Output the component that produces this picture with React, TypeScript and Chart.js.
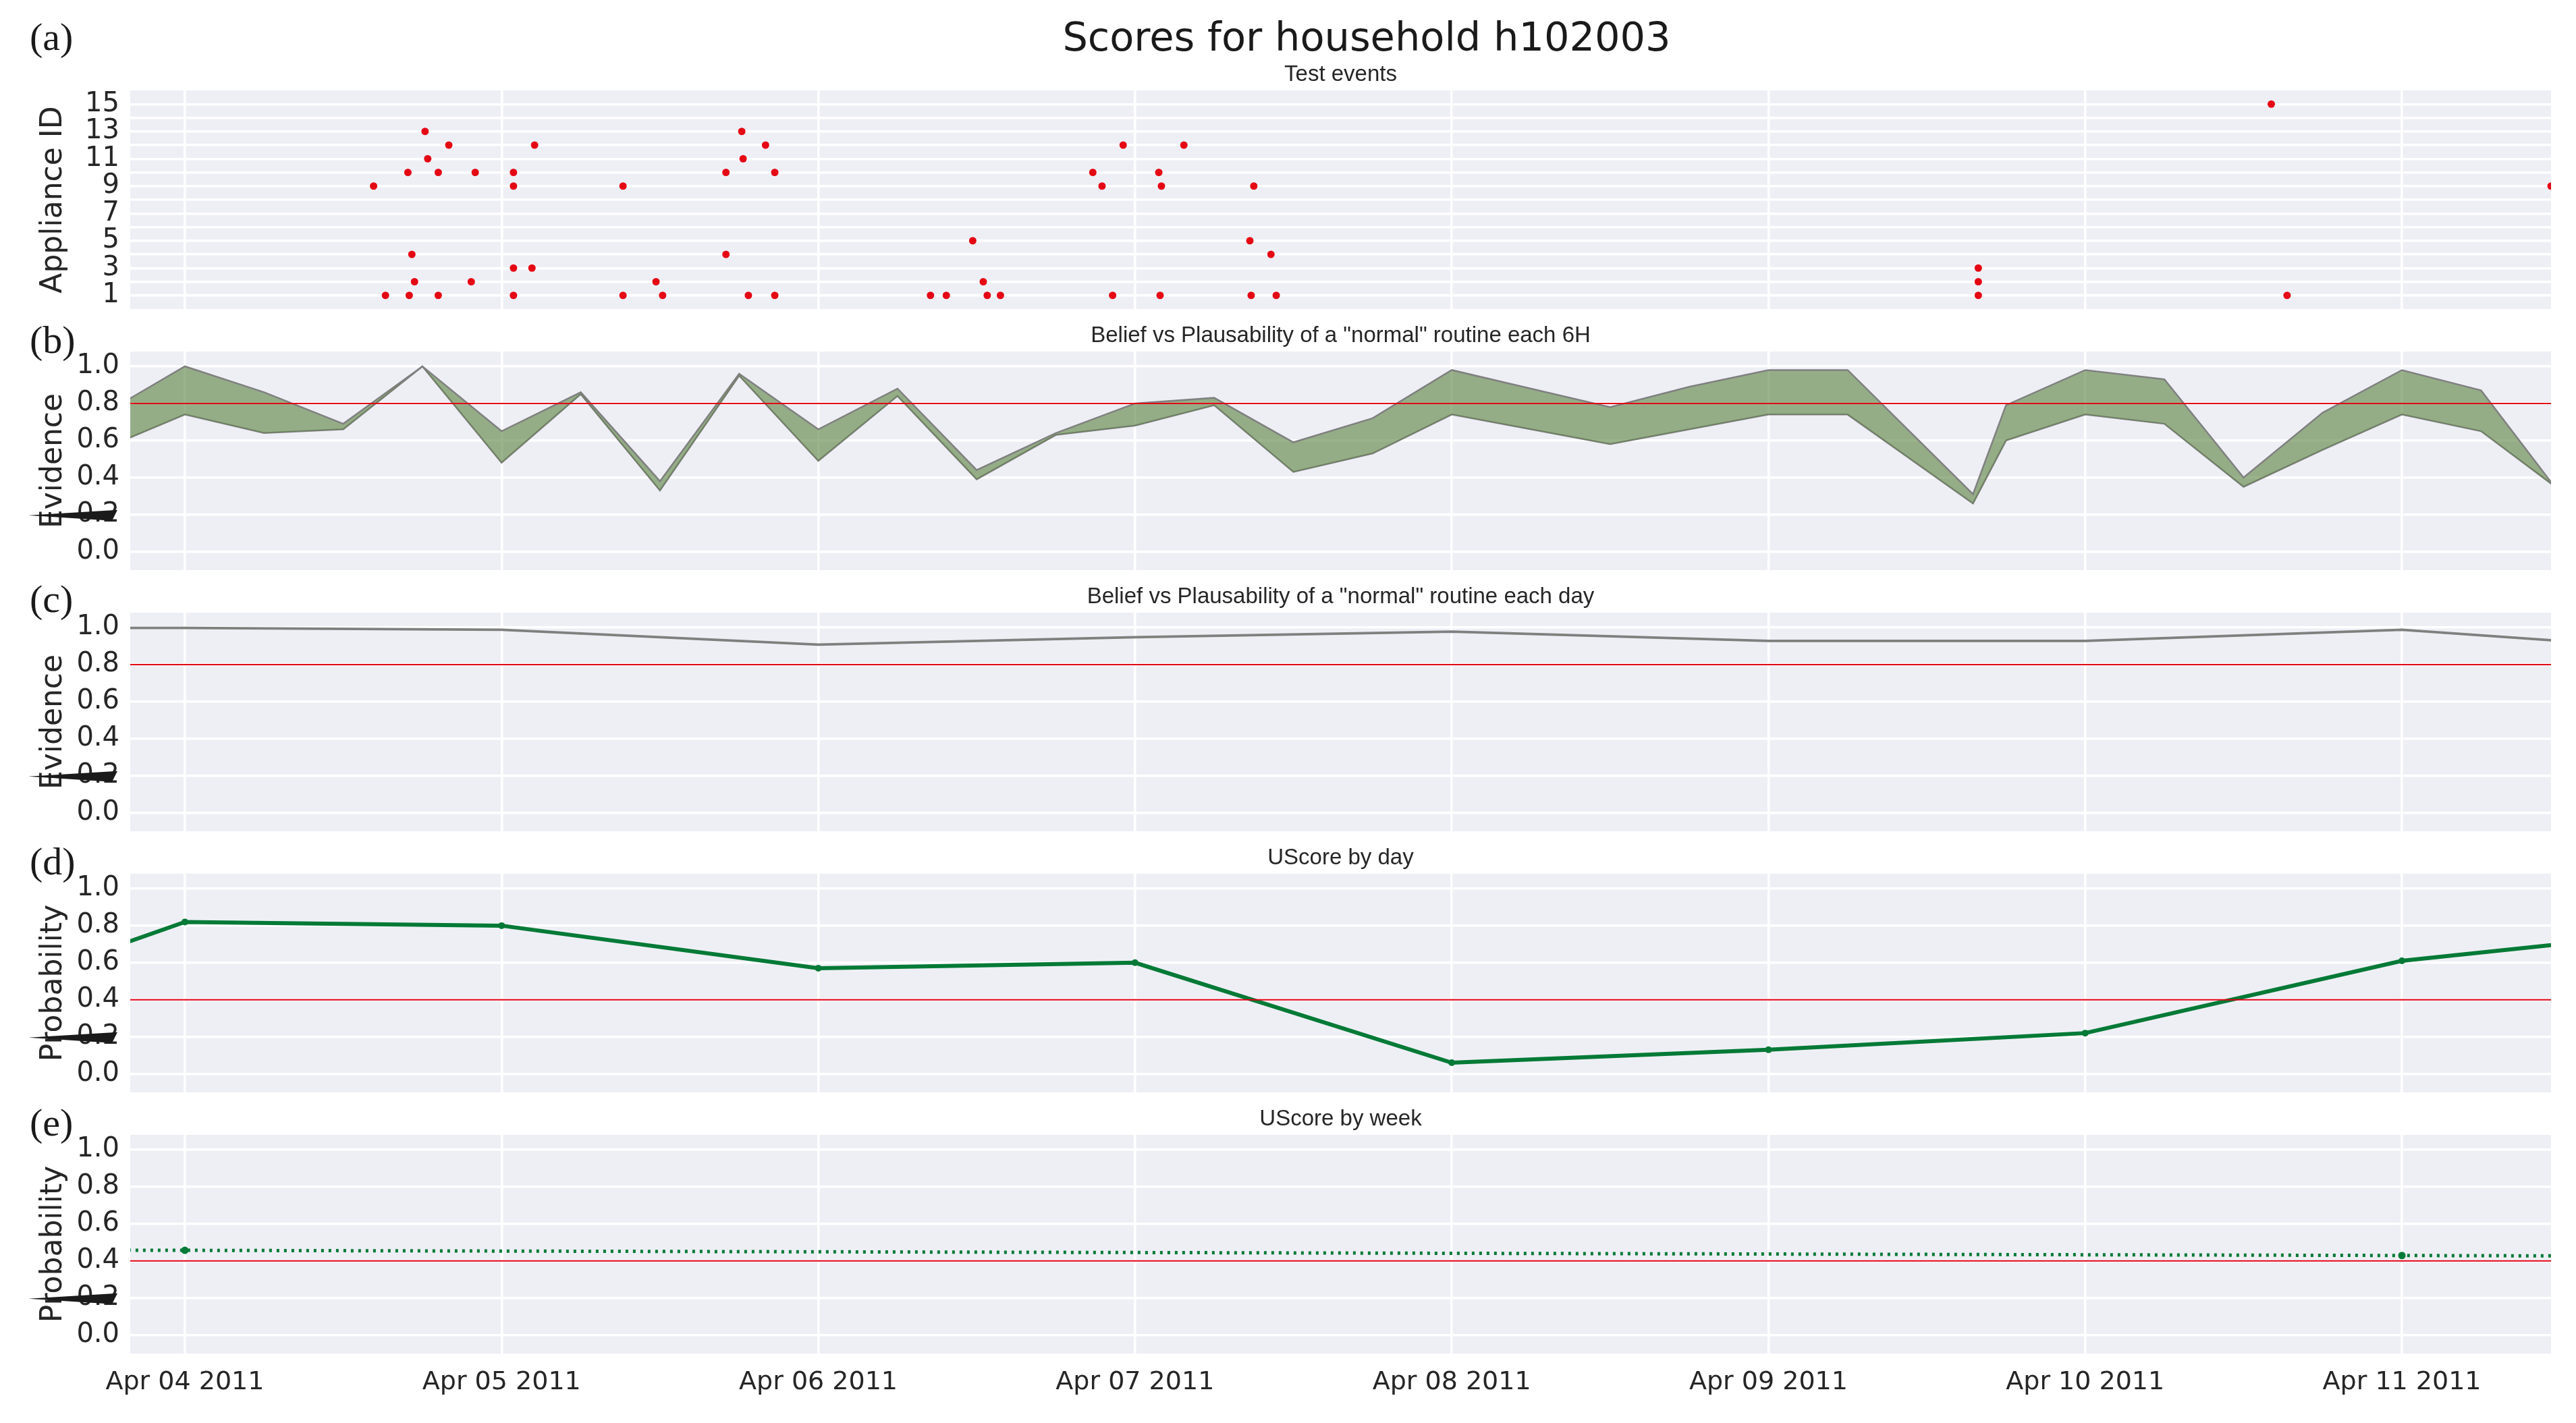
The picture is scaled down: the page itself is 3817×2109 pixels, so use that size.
import { useEffect, useRef } from "react";
import { Chart, registerables } from "chart.js";

Chart.register(...registerables);

// x values are hours since Apr 04 2011 00:00
const dayTicks = [0, 24, 48, 72, 96, 120, 144, 168];
const dayLabels = [
  "Apr 04 2011",
  "Apr 05 2011",
  "Apr 06 2011",
  "Apr 07 2011",
  "Apr 08 2011",
  "Apr 09 2011",
  "Apr 10 2011",
  "Apr 11 2011",
];
const applianceTicks = [1, 2, 3, 4, 5, 6, 7, 8, 9, 10, 11, 12, 13, 14, 15];
const evidenceTicks = [0, 0.2, 0.4, 0.6, 0.8, 1.0];

// (a) test events
const eventHours = [
  15.2, 17.0, 19.2, 24.9, 33.2, 36.2, 42.7, 44.7, 56.5, 57.7, 60.8, 61.8, 70.3, 73.9, 80.8, 82.7, 135.9, 159.3,
  17.4, 21.7, 35.7, 60.5, 135.9,
  24.9, 26.3, 135.9,
  17.2, 41.0, 82.3,
  59.7, 80.7,
  14.3, 24.9, 33.2, 69.5, 74.0, 81.0, 179.3,
  16.9, 19.2, 22.0, 24.9, 41.0, 44.7, 68.8, 73.8,
  18.4, 42.3,
  20.0, 26.5, 44.0, 71.1, 75.7,
  18.2, 42.2,
  158.1,
];
const eventAppliances = [
  1, 1, 1, 1, 1, 1, 1, 1, 1, 1, 1, 1, 1, 1, 1, 1, 1, 1,
  2, 2, 2, 2, 2,
  3, 3, 3,
  4, 4, 4,
  5, 5,
  9, 9, 9, 9, 9, 9, 9,
  10, 10, 10, 10, 10, 10, 10, 10,
  11, 11,
  12, 12, 12, 12, 12,
  13, 13,
  15,
];

// (b) belief / plausability each 6H
const sixHourTimes = [
  -6, 0, 6, 12, 18, 24, 30, 36, 42, 48, 54, 60, 66, 72, 78, 84, 90, 96, 102, 108, 114, 120, 126, 135.5, 138, 144,
  150, 156, 162, 168, 174, 180,
];
const plausibility6h = [
  0.75, 1.0, 0.86, 0.69, 1.0, 0.65, 0.86, 0.38, 0.96, 0.66, 0.88, 0.44, 0.64, 0.8, 0.83, 0.59, 0.72, 0.98, 0.88,
  0.78, 0.89, 0.98, 0.98, 0.31, 0.79, 0.98, 0.93, 0.4, 0.75, 0.98, 0.87, 0.31,
];
const belief6h = [
  0.56, 0.74, 0.64, 0.66, 1.0, 0.48, 0.85, 0.33, 0.95, 0.49, 0.84, 0.39, 0.63, 0.68, 0.79, 0.43, 0.53, 0.74, 0.66,
  0.58, 0.66, 0.74, 0.74, 0.26, 0.6, 0.74, 0.69, 0.35, 0.55, 0.74, 0.65, 0.33,
];

// (c), (d) daily values
const dayTimes = [-24, 0, 24, 48, 72, 96, 120, 144, 168, 192];
const plausibilityDay = [1.0, 1.0, 0.99, 0.91, 0.95, 0.98, 0.93, 0.93, 0.99, 0.87];
const beliefDay = [0.995, 0.995, 0.985, 0.905, 0.945, 0.975, 0.925, 0.925, 0.985, 0.865];
const uscoreDay = [0.22, 0.82, 0.8, 0.57, 0.6, 0.06, 0.13, 0.22, 0.61, 0.79];

// (e) weekly values
const weekTimes = [-168, 0, 168, 336];
const uscoreWeek = [0.485, 0.457, 0.429, 0.401];

const evidenceThreshold = 0.8;
const probabilityThreshold = 0.4;

const X_MIN = -4.14;
const X_MAX = 179.3;

const W = 3817;
const PLOT_LEFT = 193;
const PLOT_RIGHT = 3780;
const PLOT_H = 324;
const PAD_TOP = 40;
const PAD_BOTTOM = 40;
const panelTops = [134, 521, 908, 1295, 1682];

const SANS = "'DejaVu Sans', sans-serif";
const ARIAL = "'Liberation Sans', Arial, sans-serif";
const SERIF = "'Liberation Serif', 'Times New Roman', serif";
const TEXT = "#262626";
const BG = "#eeeff5";
const RED = "rgb(228, 6, 19)";
const GREEN = "rgb(4, 122, 54)";
const GREY = "rgb(128, 128, 128)";
const BAND = "rgba(88, 128, 62, 0.6)";

const toPoints = (xs: number[], ys: number[]) => xs.map((x, i) => ({ x, y: ys[i] }));

const background = {
  id: "background",
  beforeDraw(chart: any) {
    const { ctx, chartArea: a } = chart;
    ctx.save();
    ctx.fillStyle = BG;
    ctx.fillRect(a.left, a.top, a.right - a.left, a.bottom - a.top);
    ctx.restore();
  },
};

const thresholdLine = (value: number) => ({
  id: "threshold",
  afterDatasetsDraw(chart: any) {
    const { ctx, chartArea: a } = chart;
    const y = chart.scales.y.getPixelForValue(value);
    ctx.save();
    ctx.strokeStyle = "rgb(225, 0, 20)";
    ctx.lineWidth = 2;
    ctx.beginPath();
    ctx.moveTo(a.left, y);
    ctx.lineTo(a.right, y);
    ctx.stroke();
    ctx.restore();
  },
});

// the stray black wedge over the 0.2 tick label
const tickWedge = (value: number) => ({
  id: "wedge",
  afterDraw(chart: any) {
    const { ctx } = chart;
    const y = chart.scales.y.getPixelForValue(value);
    ctx.save();
    ctx.fillStyle = "#1a1a1a";
    ctx.beginPath();
    ctx.moveTo(42, y + 1);
    ctx.lineTo(174, y - 7);
    ctx.lineTo(166, y + 9);
    ctx.closePath();
    ctx.fill();
    ctx.restore();
  },
});

const xScale = (showLabels: boolean) => ({
  type: "linear",
  min: X_MIN,
  max: X_MAX,
  afterBuildTicks: (axis: any) => {
    axis.ticks = dayTicks.map((v) => ({ value: v }));
  },
  afterFit: (axis: any) => {
    axis.height = showLabels ? 70 : 0;
  },
  grid: { color: "#ffffff", lineWidth: 3.5, drawTicks: false },
  border: { display: false },
  ticks: {
    display: showLabels,
    autoSkip: false,
    maxRotation: 0,
    padding: 20,
    color: TEXT,
    font: { family: SANS, size: 38 },
    callback: (v: number) => dayLabels[dayTicks.indexOf(v)] ?? "",
  },
});

const yScale = (
  min: number,
  max: number,
  ticks: number[],
  label: string,
  format: (v: number) => string
) => ({
  type: "linear",
  min,
  max,
  afterBuildTicks: (axis: any) => {
    axis.ticks = ticks.map((v) => ({ value: v }));
  },
  afterFit: (axis: any) => {
    axis.width = PLOT_LEFT;
  },
  grid: { color: "#ffffff", lineWidth: 3.5, drawTicks: false },
  border: { display: false },
  ticks: {
    autoSkip: false,
    padding: 16,
    color: TEXT,
    font: { family: SANS, size: 40 },
    callback: format,
  },
  title: {
    display: true,
    text: label,
    color: TEXT,
    font: { family: SANS, size: 44 },
    padding: { top: 53, bottom: 0 },
  },
});

const options = (yOpts: any, showX: boolean, bottomPad: number) => ({
  animation: false,
  responsive: false,
  devicePixelRatio: 1,
  events: [],
  layout: { padding: { left: 0, right: W - PLOT_RIGHT, top: PAD_TOP, bottom: bottomPad } },
  plugins: { legend: { display: false }, tooltip: { enabled: false }, title: { display: false } },
  scales: { x: xScale(showX), y: yOpts },
});

const fmtProb = (v: number) => v.toFixed(1);
const fmtId = (v: number) => (v % 2 === 1 ? String(v) : "");

const bandDatasets = (xs: number[], upper: number[], lower: number[]) => [
  {
    data: toPoints(xs, upper),
    borderColor: GREY,
    borderWidth: 2.5,
    pointRadius: 0,
    tension: 0,
    fill: "+1",
    backgroundColor: BAND,
  },
  {
    data: toPoints(xs, lower),
    borderColor: GREY,
    borderWidth: 2.5,
    pointRadius: 0,
    tension: 0,
    fill: false,
  },
];

const panels = [
  {
    height: PAD_TOP + PLOT_H + PAD_BOTTOM,
    config: () => ({
      type: "scatter",
      data: {
        datasets: [
          {
            data: toPoints(eventHours, eventAppliances),
            pointRadius: 5.5,
            backgroundColor: RED,
            borderWidth: 0,
          },
        ],
      },
      options: options(yScale(0, 16, applianceTicks, "Appliance ID", fmtId), false, PAD_BOTTOM),
      plugins: [background],
    }),
  },
  {
    height: PAD_TOP + PLOT_H + PAD_BOTTOM,
    config: () => ({
      type: "line",
      data: { datasets: bandDatasets(sixHourTimes, plausibility6h, belief6h) },
      options: options(yScale(-0.1, 1.08, evidenceTicks, "Evidence", fmtProb), false, PAD_BOTTOM),
      plugins: [background, thresholdLine(evidenceThreshold), tickWedge(0.2)],
    }),
  },
  {
    height: PAD_TOP + PLOT_H + PAD_BOTTOM,
    config: () => ({
      type: "line",
      data: { datasets: bandDatasets(dayTimes, plausibilityDay, beliefDay) },
      options: options(yScale(-0.1, 1.08, evidenceTicks, "Evidence", fmtProb), false, PAD_BOTTOM),
      plugins: [background, thresholdLine(evidenceThreshold), tickWedge(0.2)],
    }),
  },
  {
    height: PAD_TOP + PLOT_H + PAD_BOTTOM,
    config: () => ({
      type: "line",
      data: {
        datasets: [
          {
            data: toPoints(dayTimes, uscoreDay),
            borderColor: GREEN,
            borderWidth: 6,
            pointRadius: 5,
            pointBackgroundColor: GREEN,
            pointBorderWidth: 0,
            tension: 0,
            fill: false,
          },
        ],
      },
      options: options(yScale(-0.1, 1.08, evidenceTicks, "Probability", fmtProb), false, PAD_BOTTOM),
      plugins: [background, thresholdLine(probabilityThreshold), tickWedge(0.2)],
    }),
  },
  {
    height: PAD_TOP + PLOT_H + 70 + 10,
    config: () => ({
      type: "line",
      data: {
        datasets: [
          {
            data: toPoints(weekTimes, uscoreWeek),
            borderColor: GREEN,
            borderWidth: 5,
            borderDash: [4, 7],
            pointRadius: 5.5,
            pointBackgroundColor: GREEN,
            pointBorderWidth: 0,
            tension: 0,
            fill: false,
          },
        ],
      },
      options: options(yScale(-0.1, 1.08, evidenceTicks, "Probability", fmtProb), true, 10),
      plugins: [background, thresholdLine(probabilityThreshold), tickWedge(0.2)],
    }),
  },
];

const subtitles = [
  "Test events",
  'Belief vs Plausability of a "normal" routine each 6H',
  'Belief vs Plausability of a "normal" routine each day',
  "UScore by day",
  "UScore by week",
];
const letters = ["(a)", "(b)", "(c)", "(d)", "(e)"];
const letterCenters = [60, 509, 893, 1282, 1669];

function Panel({ top, height, config }: { top: number; height: number; config: () => any }) {
  const ref = useRef<HTMLCanvasElement | null>(null);

  useEffect(() => {
    if (!ref.current) return;
    const chart = new Chart(ref.current, config());
    return () => {
      chart.destroy();
    };
  }, []);

  return (
    <canvas
      ref={ref}
      width={W}
      height={height}
      style={{ position: "absolute", left: 0, top, width: W, height, display: "block" }}
    />
  );
}

export default function App() {
  useEffect(() => {
    document.body.style.margin = "0";
  }, []);

  return (
    <div
      style={{
        position: "absolute",
        left: 0,
        top: 0,
        width: W,
        height: 2109,
        overflow: "hidden",
        background: "#ffffff",
      }}
    >
      {panels.map((p, i) => (
        <Panel key={i} top={panelTops[i] - PAD_TOP} height={p.height} config={p.config} />
      ))}
      <div
        style={{
          position: "absolute",
          left: 2025,
          top: 20,
          transform: "translateX(-50%)",
          whiteSpace: "nowrap",
          fontFamily: SANS,
          fontSize: 59,
          lineHeight: "70px",
          color: "#1a1a1a",
        }}
      >
        Scores for household h102003
      </div>
      {subtitles.map((t, i) => (
        <div
          key={t}
          style={{
            position: "absolute",
            left: (PLOT_LEFT + PLOT_RIGHT) / 2,
            top: panelTops[i] - 14 - 31,
            transform: "translateX(-50%)",
            whiteSpace: "nowrap",
            fontFamily: ARIAL,
            fontSize: 33,
            lineHeight: "40px",
            color: TEXT,
          }}
        >
          {t}
        </div>
      ))}
      {letters.map((t, i) => (
        <div
          key={t}
          style={{
            position: "absolute",
            left: 44,
            top: letterCenters[i] - 40,
            whiteSpace: "nowrap",
            fontFamily: SERIF,
            fontSize: 58,
            lineHeight: "70px",
            color: "#1a1a1a",
          }}
        >
          {t}
        </div>
      ))}
    </div>
  );
}
